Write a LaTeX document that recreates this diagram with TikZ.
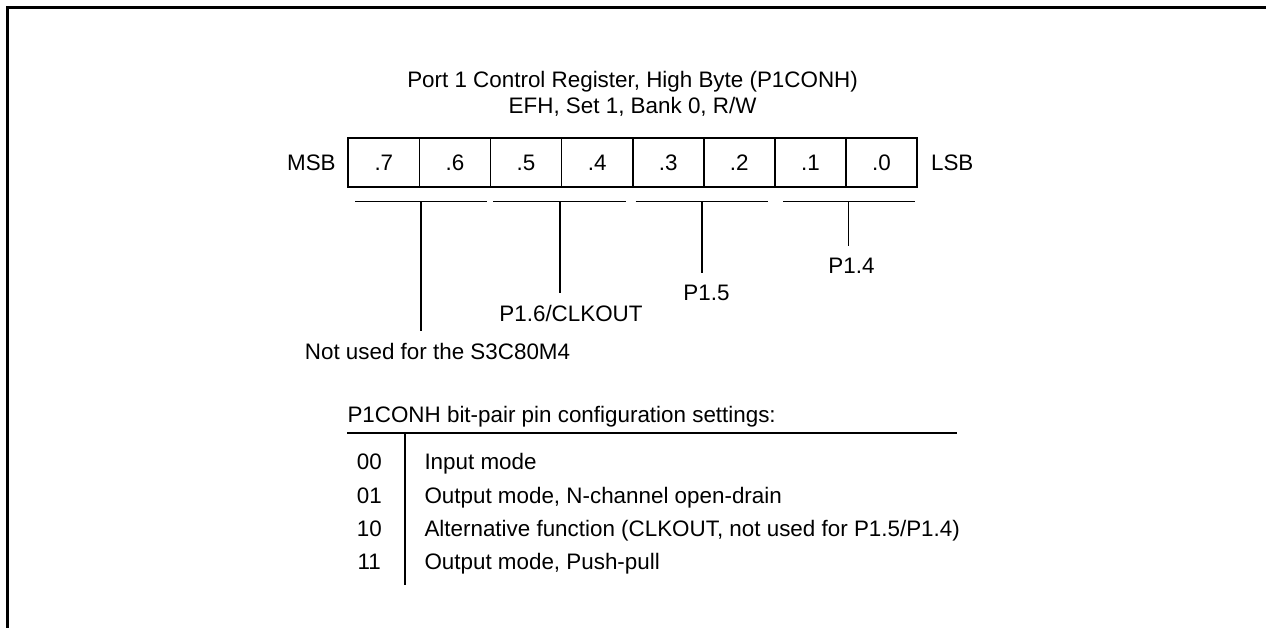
\documentclass[tikz,border=0pt]{standalone}
\usepackage{fontspec}
\setmainfont{Liberation Sans}
\usetikzlibrary{positioning}

\tikzset{
  bitcell/.style={draw, line width=1.7pt, minimum width=71.1pt, minimum height=49.6pt, inner sep=0pt},
  lbl/.style={inner sep=0pt},
  rule/.style={line width=1.7pt},
  tap/.style={line width=1.7pt, shorten >=12pt},
}

\begin{document}
\begin{tikzpicture}[x=1pt,y=-1pt,font=\fontsize{22.4}{26}\selectfont]
  \useasboundingbox (0,0) rectangle (1266,628);
  % outer frame (open on the right and at the bottom)
  \draw[line width=3pt] (7.5,628) -- (7.5,7.5) -- (1266,7.5);
  % register title
  \node[lbl, anchor=base] (title1) at (632.6,87.5) {Port 1 Control Register, High Byte (P1CONH)};
  \node[lbl, anchor=base] (title2) at (632.6,113.5) {EFH, Set 1, Bank 0, R/W};
  % the eight bit cells
  \foreach \b [count=\i from 0] in {7,6,...,0}
    \node[bitcell] (bit\b) at ({383.85+71.09*\i},162.5) {.\b};
  \node[lbl, left=11.6pt of bit7] (msb) {MSB};
  \node[lbl, right=13pt of bit0] (lsb) {LSB};
  % bit-pair brackets
  \foreach \l/\r/\m [count=\k] in {355/487/421, 493.3/625.7/560, 635.7/768.3/702, 783.3/915/848.5} {
    \draw[rule] (\l,201.5) -- (\r,201.5);
    \coordinate (br\k) at (\m,201.5);
  }
  % pin labels
  \node[lbl, anchor=base] (notused) at (437.5,359) {Not used for the S3C80M4};
  \node[lbl, anchor=base] (clkout) at (571,321) {P1.6/CLKOUT};
  \node[lbl, anchor=base] (p15) at (706.5,300.5) {P1.5};
  \node[lbl, anchor=base] (p14) at (851.5,274) {P1.4};
  \draw[tap] (br1) -- (br1 |- notused.north);
  \draw[tap] (br2) -- (br2 |- clkout.north);
  \draw[tap] (br3) -- (br3 |- p15.north);
  \draw[tap] (br4) -- (br4 |- p14.north);
  % configuration table
  \node[lbl, anchor=base west] (cfghead) at (347.3,422) {P1CONH bit-pair pin configuration settings:};
  \coordinate (ruleL) at (347.3,433.3);
  \coordinate (ruleR) at (956.7,433.3);
  \coordinate (colT) at (405,433.3);
  \coordinate (colB) at (405,585);
  \draw[rule] (ruleL) -- (ruleR);
  \draw[rule] (colT) -- (colB);
  \foreach \c/\t [count=\k from 0] in {00/{Input mode}, 01/{Output mode, N-channel open-drain},
      10/{Alternative function (CLKOUT, not used for P1.5/P1.4)}, 11/{Output mode, Push-pull}} {
    \node[lbl, anchor=base] (code\c) at (369.3,{469.6+33.4*\k}) {\c};
    \node[lbl, anchor=base west] (desc\c) at (424.3,{469.6+33.4*\k}) {\t};
  }
\end{tikzpicture}
\end{document}
